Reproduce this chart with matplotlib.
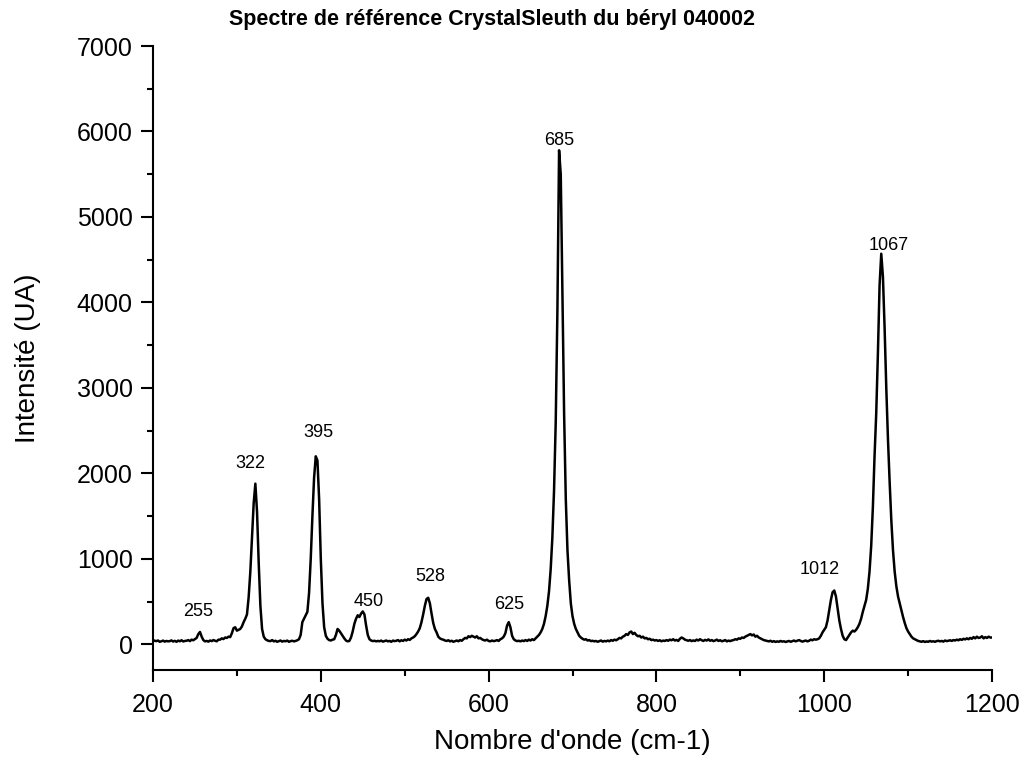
import numpy as np
import matplotlib
matplotlib.use("Agg")
import matplotlib.pyplot as plt
from matplotlib.ticker import MultipleLocator

plt.rcParams['font.family'] = ['Liberation Sans', 'DejaVu Sans']

# spectre, un point tous les 2 cm-1 de 200 a 1200
nombre_onde = np.arange(200, 1202, 2)
intensite = [
    50, 42, 38, 45, 30, 36, 44, 32, 40, 35,            # 200
    38, 46, 33, 41, 30, 44, 36, 48, 34, 40,            # 220
    42, 50, 38, 55, 48, 62, 75, 120, 145, 90,          # 240
    50, 35, 40, 32, 45, 38, 50, 42, 36, 55,            # 260
    55, 70, 62, 80, 75, 90, 85, 130, 190, 200,         # 280
    160, 170, 180, 210, 260, 300, 350, 550, 850, 1250,  # 300
    1650, 1880, 1550, 950, 450, 180, 90, 60, 48, 40,   # 320
    38, 50, 35, 42, 30, 38, 45, 32, 40, 36,            # 340
    44, 30, 38, 42, 35, 40, 48, 60, 110, 260,          # 360
    300, 340, 380, 600, 1000, 1500, 1950, 2200, 2150, 1700,  # 380
    1000, 480, 200, 100, 65, 50, 45, 55, 60, 110,      # 400
    180, 160, 130, 100, 70, 45, 35, 40, 80, 150,       # 420
    240, 300, 340, 320, 360, 385, 350, 220, 110, 60,   # 440
    45, 38, 42, 35, 40, 36, 44, 32, 38, 45,            # 460
    35, 40, 30, 44, 38, 42, 50, 35, 48, 40,            # 480
    55, 45, 60, 52, 70, 80, 95, 120, 150, 190,         # 500
    260, 350, 450, 530, 545, 480, 360, 250, 180, 140,  # 520
    90, 70, 60, 55, 45, 40, 48, 35, 42, 30,            # 540
    38, 45, 36, 50, 42, 60, 75, 70, 95, 85,            # 560
    100, 90, 80, 95, 70, 75, 60, 50, 45, 55,           # 580
    40, 35, 45, 38, 42, 50, 40, 60, 70, 90,            # 600
    130, 220, 260, 200, 100, 60, 45, 38, 42, 35,       # 620
    45, 38, 50, 40, 55, 45, 60, 50, 70, 90,            # 640
    110, 140, 180, 240, 330, 450, 620, 880, 1250, 1800,  # 660
    2600, 3900, 5780, 5500, 4100, 2700, 1700, 1100, 750, 480,  # 680
    330, 240, 180, 140, 100, 80, 65, 55, 60, 45,       # 700
    50, 38, 42, 35, 40, 30, 38, 45, 32, 40,            # 720
    35, 44, 36, 50, 42, 55, 48, 60, 75, 70,            # 740
    90, 100, 120, 110, 140, 150, 120, 135, 110, 95,    # 760
    100, 80, 90, 70, 75, 60, 65, 50, 55, 45,           # 780
    50, 40, 48, 36, 44, 40, 50, 42, 55, 48,            # 800
    60, 45, 52, 40, 65, 80, 70, 55, 48, 42,            # 820
    50, 38, 46, 40, 55, 45, 60, 48, 40, 52,            # 840
    45, 58, 42, 50, 38, 45, 55, 40, 48, 36,            # 860
    42, 50, 35, 44, 38, 46, 50, 60, 55, 70,            # 880
    65, 80, 75, 90, 100, 110, 120, 105, 115, 90,       # 900
    100, 80, 70, 60, 50, 45, 40, 35, 42, 30,           # 920
    38, 28, 35, 30, 40, 32, 36, 28, 34, 40,            # 940
    30, 38, 45, 35, 42, 50, 40, 32, 38, 45,            # 960
    35, 42, 55, 48, 60, 55, 60, 70, 100, 140,          # 980
    170, 200, 280, 400, 520, 610, 630, 560, 420, 280,  # 1000
    180, 100, 60, 50, 80, 110, 140, 160, 150, 170,     # 1020
    200, 240, 300, 380, 450, 520, 650, 850, 1150, 1600,  # 1040
    2200, 2700, 3400, 4200, 4570, 4300, 3700, 3000, 2400, 1900,  # 1060
    1450, 1100, 850, 680, 560, 480, 400, 320, 250, 190,  # 1080
    150, 120, 90, 70, 60, 50, 40, 35, 30, 38,          # 1100
    28, 34, 30, 40, 32, 36, 30, 38, 42, 35,            # 1120
    40, 32, 45, 38, 42, 48, 40, 50, 45, 55,            # 1140
    48, 60, 52, 65, 58, 70, 60, 75, 65, 85,            # 1160
    70, 90, 75, 80, 95, 70, 85, 75, 90, 80,            # 1180
    80,                                                # 1200
]

# etiquettes des pics (position du texte)
pics = ["255", "322", "395", "450", "528", "625", "685", "1012", "1067"]
pics_x = [253.6, 316.5, 397.5, 457.1, 530.2, 624.3, 684.0, 995.0, 1077.3]
pics_y = [327, 2068, 2422, 444, 736, 409, 5843, 818, 4608]

fig = plt.figure(figsize=(10.24, 7.62), dpi=100)
ax = fig.add_axes([153 / 1024, 92 / 762, 839 / 1024, 624 / 762])

ax.plot(nombre_onde, intensite, color="black", linewidth=1.8)

for nom, px, py in zip(pics, pics_x, pics_y):
    ax.text(px, py, nom, ha="center", va="baseline", fontsize=13)

ax.set_xlim(200, 1200)
ax.set_ylim(-300, 7000)
ax.xaxis.set_major_locator(MultipleLocator(200))
ax.xaxis.set_minor_locator(MultipleLocator(100))
ax.yaxis.set_major_locator(MultipleLocator(1000))
ax.yaxis.set_minor_locator(MultipleLocator(500))

for side in ["top", "right"]:
    ax.spines[side].set_visible(False)
for side in ["left", "bottom"]:
    ax.spines[side].set_linewidth(1.5)

ax.tick_params(which="major", direction="out", length=8.5, width=1.5, labelsize=18, pad=6)
ax.tick_params(which="minor", direction="out", length=4.3, width=1.5)
ax.tick_params(axis="x", which="major", pad=8)

ax.set_xlabel("Nombre d'onde (cm-1)", fontsize=20)
ax.set_ylabel("Intensité (UA)", fontsize=20)
ax.xaxis.set_label_coords(0.5, -0.095)
ax.yaxis.set_label_coords(-0.133, 0.5)

fig.text(492 / 1024, 1 - 24.5 / 762, "Spectre de référence CrystalSleuth du béryl 040002",
         ha="center", va="baseline", fontsize=15.5, fontweight="bold")

fig.savefig("out.png", dpi=100)
